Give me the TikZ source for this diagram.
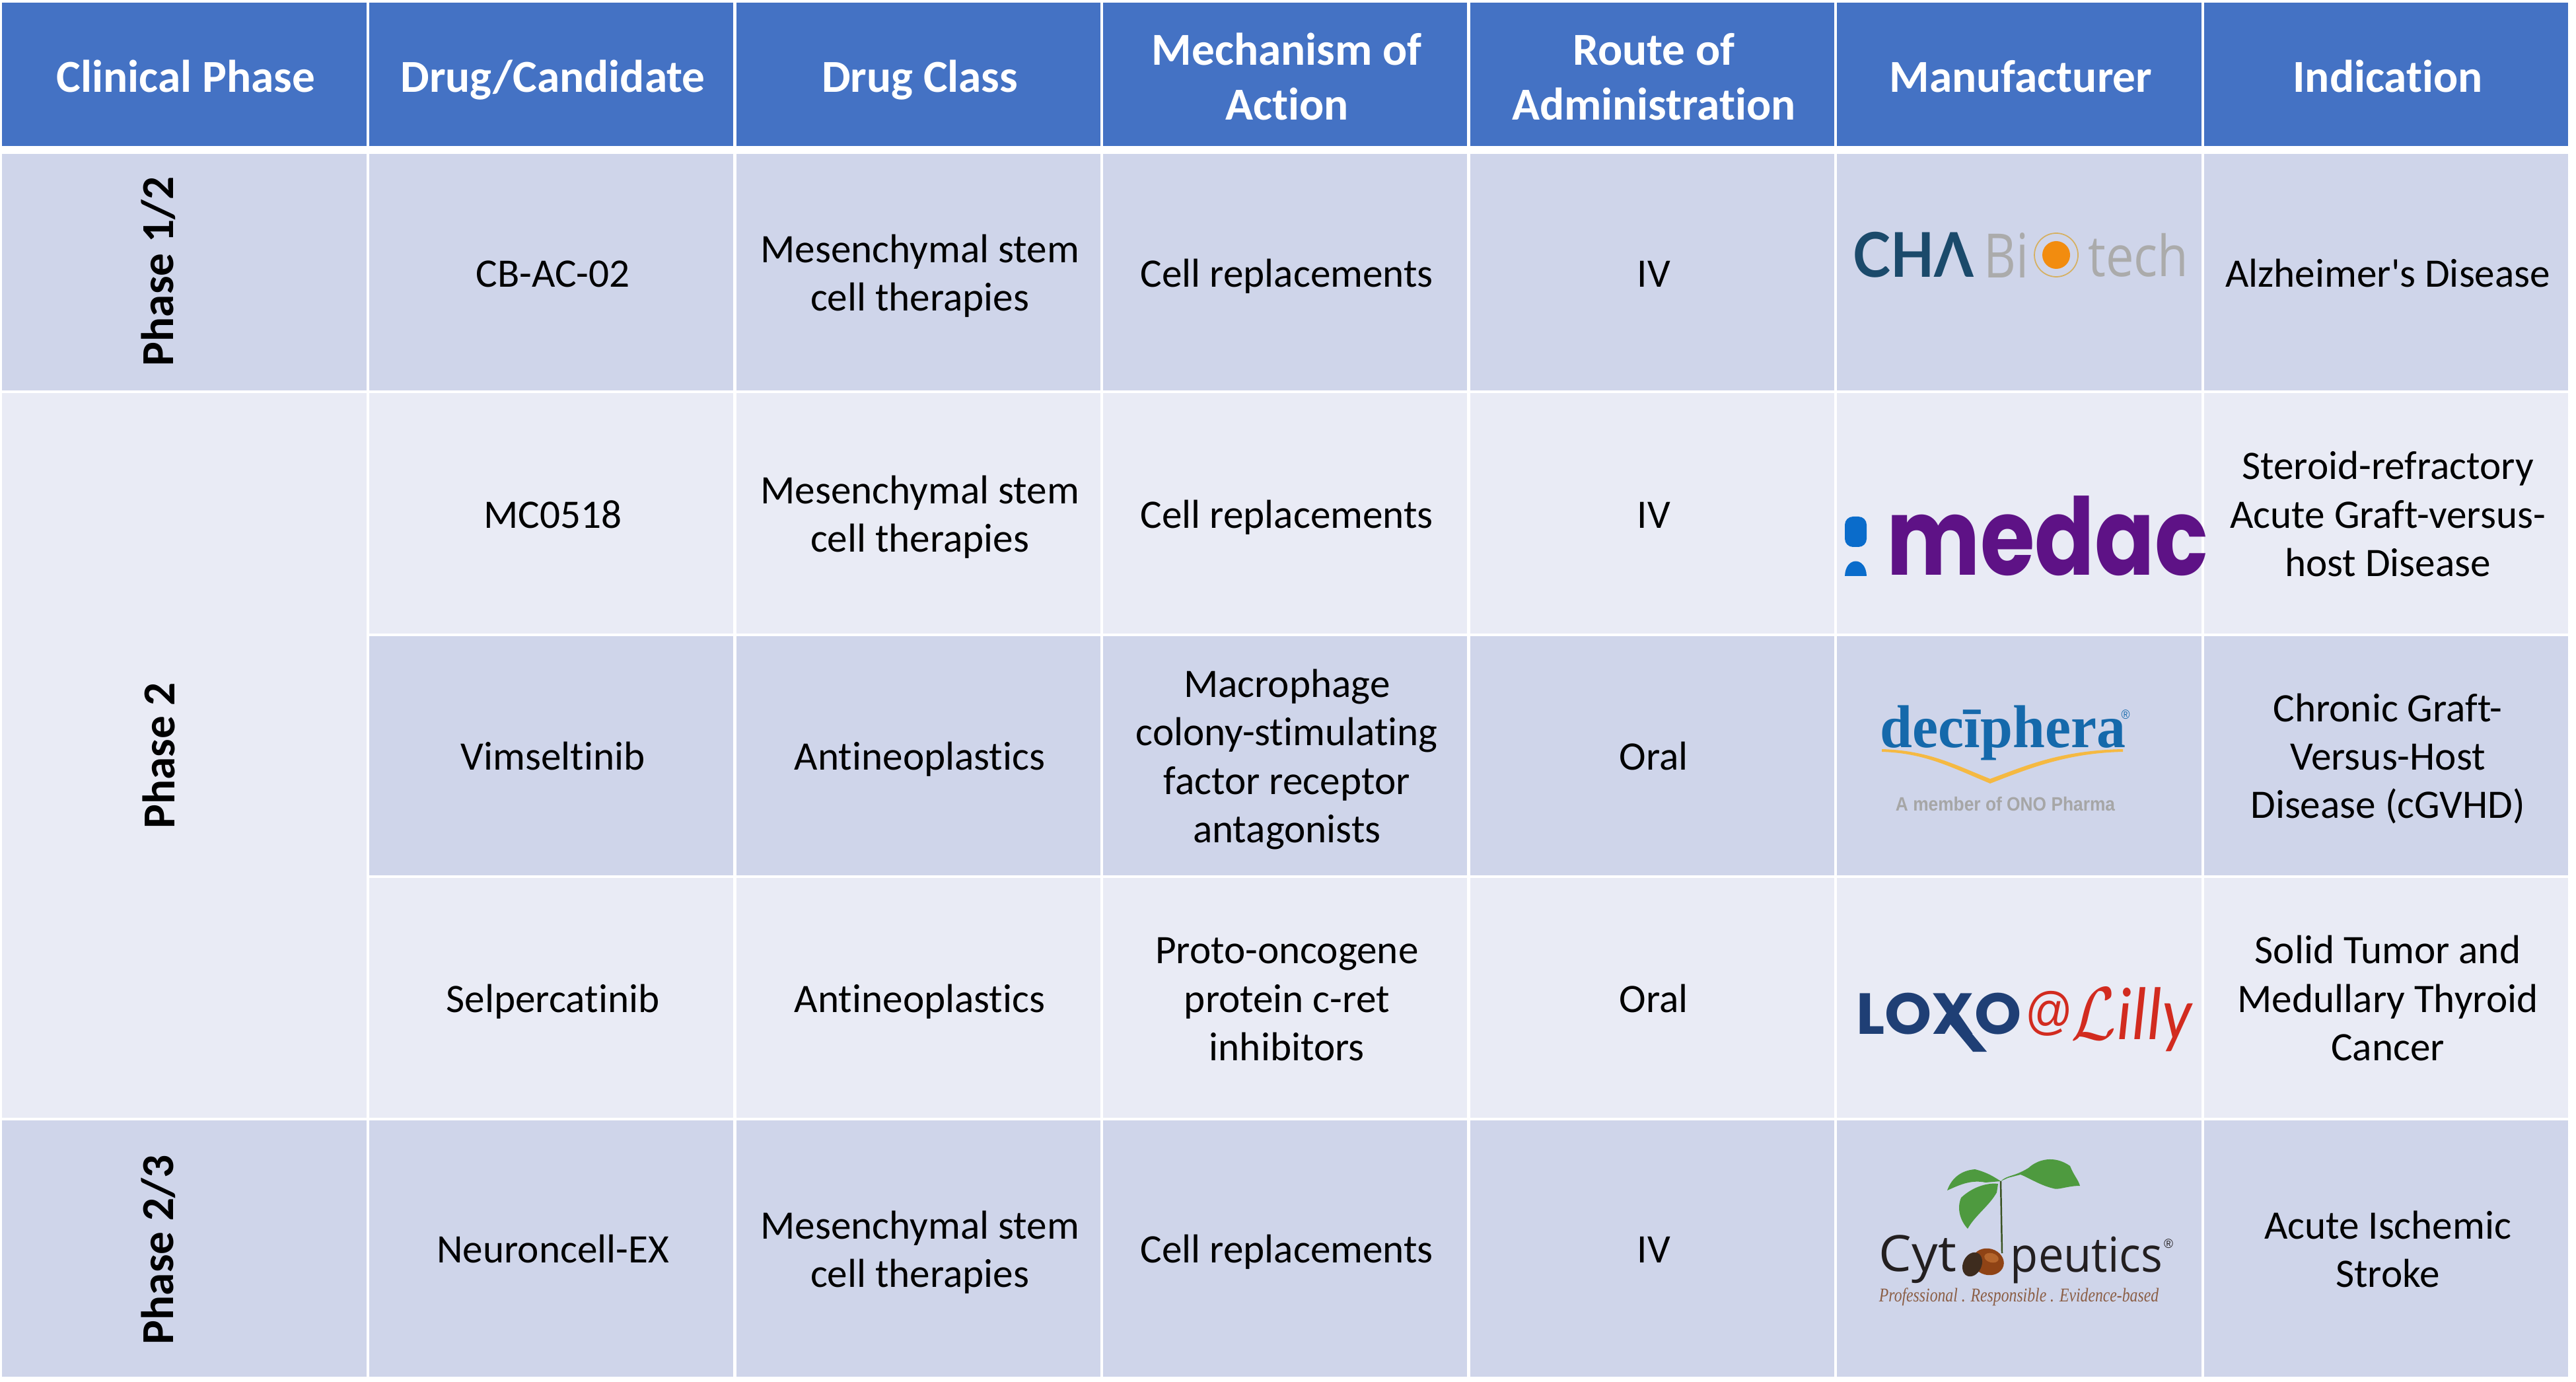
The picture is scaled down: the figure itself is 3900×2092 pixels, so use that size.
\documentclass[tikz,border=0pt]{standalone}
\usepackage{fontspec}
\usepackage{graphicx}
\setmainfont{Carlito}
\newfontfamily\cellfont{Carlito}[Ligatures=NoCommon]
\newfontfamily\opensans{Open Sans}
\newfontfamily\poppins{Poppins}
\newfontfamily\lato{Lato}
\newfontfamily\libserif{Liberation Serif}
\newfontfamily\libsans{Liberation Sans}
\definecolor{headblue}{HTML}{4472C4}
\definecolor{rowdark}{HTML}{CFD5EA}
\definecolor{rowlight}{HTML}{E9EBF5}
\definecolor{chablue}{HTML}{1B4A6B}
\definecolor{chagray}{HTML}{ABABAB}
\definecolor{chaorange}{HTML}{F28C0F}
\definecolor{chagold}{HTML}{D6B060}
\definecolor{medacpurple}{HTML}{5E1286}
\definecolor{medacblue}{HTML}{0A6CCB}
\definecolor{deciblue}{HTML}{1569AB}
\definecolor{decigold}{HTML}{F5B942}
\definecolor{decigray}{HTML}{A6A6A6}
\definecolor{loxoblue}{HTML}{1F3F75}
\definecolor{lillyred}{HTML}{D22B1F}
\definecolor{cytoblack}{HTML}{231F20}
\definecolor{cytobrown}{HTML}{8B5E45}
\definecolor{leafgreen}{HTML}{4E9A3F}
\definecolor{stemgreen}{HTML}{3B5323}
\definecolor{nutbrown}{HTML}{8F4315}
\definecolor{nutlight}{HTML}{B5652B}
\definecolor{capbrown}{HTML}{3E2C1E}
\newcommand{\celltxt}[1]{\setbox\strutbox\hbox{\vrule height16.6pt depth4.2pt width0pt}\begin{tabular}{@{\hspace{1.4pt}}c@{}}#1\end{tabular}}
\newcommand{\headtxt}[1]{\setbox\strutbox\hbox{\vrule height19.5pt depth4.1pt width0pt}\begin{tabular}{@{\hspace{1.4pt}}c@{}}#1\end{tabular}}
\tikzset{
  basecell/.style={minimum width=5.51cm},
  cell/.style={basecell,text=black,font=\cellfont\fontsize{17.4}{20.8}\selectfont},
  headcell/.style={basecell,fill=headblue,minimum height=2.164cm,text=white,font=\cellfont\fontsize{19.7}{23.6}\selectfont\bfseries},
  rowone/.style={cell,fill=rowdark,minimum height=3.574cm},
  rowtwo/.style={cell,fill=rowlight,minimum height=3.634cm},
  rowthree/.style={cell,fill=rowdark,minimum height=3.615cm},
  rowfour/.style={cell,fill=rowlight,minimum height=3.625cm},
  rowfive/.style={cell,fill=rowdark,minimum height=3.88cm},
  phaselabel/.style={rotate=90,text=black,font=\cellfont\fontsize{19.7}{23.6}\selectfont\bfseries}
}
\begin{document}
\begin{tikzpicture}[x=0.01cm,y=0.01cm]
\tikzstyle{every node}+=[inner sep=0pt]
\useasboundingbox (0,0) rectangle (3900,-2092);
% header
\node [headcell] (hphase) at (279,-112.5) {\headtxt{Clinical Phase}};
\node [headcell] (hdrug) at (834.6,-112.5) {\headtxt{Drug/Candidate}};
\node [headcell] (hclass) at (1390.2,-112.5) {\headtxt{Drug Class}};
\node [headcell] (hmoa) at (1945.8,-112.5) {\headtxt{Mechanism of\\Action}};
\node [headcell] (hroute) at (2501.4,-112.5) {\headtxt{Route of\\Administration}};
\node [headcell] (hmaker) at (3057,-112.5) {\headtxt{Manufacturer}};
\node [headcell] (hindic) at (3612.6,-112.5) {\headtxt{Indication}};
% phase column
\node [rowone] (cphaseA) at (279,-412.3) {};
\node [cell,fill=rowlight,minimum height=10.96cm] (cphaseB) at (279,-1143.5) {};
\node [rowfive] (cphaseC) at (279,-1890) {};
\node [phaselabel] (phaseA) at (240,-411) {Phase 1/2};
\node [phaselabel] (phaseB) at (240,-1144) {Phase 2};
\node [phaselabel] (phaseC) at (240,-1892) {Phase 2/3};
% row one
\node [rowone] (drugA) at (834.6,-412.3) {\celltxt{CB-AC-02}};
\node [rowone] (classA) at (1390.2,-412.3) {\celltxt{Mesenchymal stem\\cell therapies}};
\node [rowone] (moaA) at (1945.8,-412.3) {\celltxt{Cell replacements}};
\node [rowone] (routeA) at (2501.4,-412.3) {\celltxt{IV}};
\node [rowone] (makerA) at (3057,-412.3) {};
\node [rowone] (indicA) at (3612.6,-412.3) {\celltxt{Alzheimer's Disease}};
% row two
\node [rowtwo] (drugB) at (834.6,-777.3) {\celltxt{MC0518}};
\node [rowtwo] (classB) at (1390.2,-777.3) {\celltxt{Mesenchymal stem\\cell therapies}};
\node [rowtwo] (moaB) at (1945.8,-777.3) {\celltxt{Cell replacements}};
\node [rowtwo] (routeB) at (2501.4,-777.3) {\celltxt{IV}};
\node [rowtwo] (makerB) at (3057,-777.3) {};
\node [rowtwo] (indicB) at (3612.6,-777.3) {\celltxt{Steroid-refractory\\Acute Graft-versus-\\host Disease}};
% row three
\node [rowthree] (drugC) at (834.6,-1143.7) {\celltxt{Vimseltinib}};
\node [rowthree] (classC) at (1390.2,-1143.7) {\celltxt{Antineoplastics}};
\node [rowthree] (moaC) at (1945.8,-1143.7) {\celltxt{Macrophage\\colony-stimulating\\factor receptor\\antagonists}};
\node [rowthree] (routeC) at (2501.4,-1143.7) {\celltxt{Oral}};
\node [rowthree] (makerC) at (3057,-1143.7) {};
\node [rowthree] (indicC) at (3612.6,-1143.7) {\celltxt{Chronic Graft-\\Versus-Host\\Disease (cGVHD)}};
% row four
\node [rowfour] (drugD) at (834.6,-1510.2) {\celltxt{Selpercatinib}};
\node [rowfour] (classD) at (1390.2,-1510.2) {\celltxt{Antineoplastics}};
\node [rowfour] (moaD) at (1945.8,-1510.2) {\celltxt{Proto-oncogene\\protein c-ret\\inhibitors}};
\node [rowfour] (routeD) at (2501.4,-1510.2) {\celltxt{Oral}};
\node [rowfour] (makerD) at (3057,-1510.2) {};
\node [rowfour] (indicD) at (3612.6,-1510.2) {\celltxt{Solid Tumor and\\Medullary Thyroid\\Cancer}};
% row five
\node [rowfive] (drugE) at (834.6,-1890) {\celltxt{Neuroncell-EX}};
\node [rowfive] (classE) at (1390.2,-1890) {\celltxt{Mesenchymal stem\\cell therapies}};
\node [rowfive] (moaE) at (1945.8,-1890) {\celltxt{Cell replacements}};
\node [rowfive] (routeE) at (2501.4,-1890) {\celltxt{IV}};
\node [rowfive] (makerE) at (3057,-1890) {};
\node [rowfive] (indicE) at (3612.6,-1890) {\celltxt{Acute Ischemic\\Stroke}};
% CHA Biotech logo
\node [text=chablue] (chaA) at (2897,-385.5) {\resizebox*{1.83cm}{0.69cm}{\lato\bfseries CHΛ}};
\node [text=chagray] (chaB) at (3037.5,-386) {\resizebox*{0.68cm}{0.68cm}{\opensans Bi}};
\draw [chagold,line width=0.5pt] (3113,-386) circle (33);
\fill [chaorange] (3113,-386) circle (21);
\node [text=chagray] (chaC) at (3237.5,-386) {\resizebox*{1.52cm}{0.66cm}{\opensans tech}};
% medac logo
\fill [medacblue,rounded corners=3.5pt] (2793,-782) rectangle (2826,-828);
\fill [medacblue] (2793,-872) .. controls (2794,-842) and (2825,-842) .. (2826,-872) -- cycle;
\node [text=medacpurple] (medac) at (3100,-811.5) {\resizebox*{4.86cm}{1.21cm}{\poppins\bfseries medac}};
% deciphera logo
\node [text=deciblue] (deci) at (3032.5,-1109) {\resizebox*{3.71cm}{0.83cm}{\libserif\bfseries decīphera}};
\node [text=deciblue] (deciR) at (3218,-1082) {\resizebox*{0.13cm}{0.14cm}{\libsans ®}};
\fill [decigold] (2849,-1134) .. controls (2920,-1136) and (2960,-1158) .. (3013,-1179) .. controls (3070,-1158) and (3120,-1136) .. (3214,-1134) -- (3214,-1138) .. controls (3130,-1140) and (3075,-1162) .. (3013,-1186) .. controls (2955,-1162) and (2915,-1140) .. (2849,-1138) -- cycle;
\node [text=decigray] (decimember) at (3036,-1217) {\resizebox*{3.32cm}{0.215cm}{\libsans\bfseries A member of ONO Pharma}};
% Loxo at Lilly logo
\node [text=loxoblue] (loxo) at (2935.5,-1534.5) {\resizebox*{2.5cm}{0.63cm}{\poppins\bfseries LOXO}};
\fill [loxoblue] (2944,-1540) -- (2965,-1540) -- (3008,-1592) -- (2987,-1592) -- cycle;
\node [text=lillyred] (lillyat) at (3102,-1534) {\resizebox*{0.72cm}{0.68cm}{\libsans @}};
\node [text=lillyred] (lilly) at (3228,-1543.5) {\resizebox*{1.84cm}{0.97cm}{$\mathcal{L}$\textit{illy}}};
% Cytopeutics logo
\fill [leafgreen] (3029,-1788) .. controls (3021,-1783) and (3010,-1775) .. (2990,-1770) .. controls (2967,-1772) and (2954,-1785) .. (2948,-1802) .. controls (2964,-1795) and (2983,-1785) .. (3006,-1790) -- cycle;
\fill [leafgreen] (3025,-1792) .. controls (3010,-1790) and (2987,-1796) .. (2969,-1813) .. controls (2962,-1830) and (2968,-1848) .. (2979,-1860) .. controls (2990,-1840) and (3012,-1825) .. (3023,-1805) -- cycle;
\fill [leafgreen] (3029,-1788) .. controls (3040,-1778) and (3048,-1782) .. (3071,-1768) .. controls (3085,-1755) and (3110,-1748) .. (3134,-1765) .. controls (3140,-1780) and (3146,-1785) .. (3149,-1795) .. controls (3130,-1795) and (3115,-1802) .. (3109,-1799) .. controls (3090,-1795) and (3070,-1782) .. (3059,-1778) -- (3040,-1783) -- cycle;
\draw [stemgreen,line width=0.7pt] (3029,-1788) -- (3031,-1897);
\node [text=cytoblack] (cytoA) at (2903.5,-1906.5) {\resizebox*{1.17cm}{0.73cm}{\opensans Cyt}};
\node [text=cytoblack] (cytoB) at (3159,-1907.5) {\resizebox*{2.30cm}{0.71cm}{\opensans peutics}};
\node [text=cytoblack] (cytoR) at (3283,-1883) {\resizebox*{0.14cm}{0.14cm}{\libsans ®}};
\fill [nutbrown,rotate around={-15:(3010,-1910)}] (3010,-1910) ellipse (24 and 20);
\fill [nutlight,rotate around={-15:(3015,-1904)}] (3015,-1904) ellipse (11 and 7);
\fill [capbrown,rotate around={-25:(2986,-1914)}] (2986,-1914) ellipse (14 and 19);
\node [text=cytobrown] (cytotag) at (3056.5,-1963.5) {\resizebox*{4.23cm}{0.27cm}{\libserif\itshape Professional . Responsible . Evidence-based}};
\end{tikzpicture}
\end{document}
